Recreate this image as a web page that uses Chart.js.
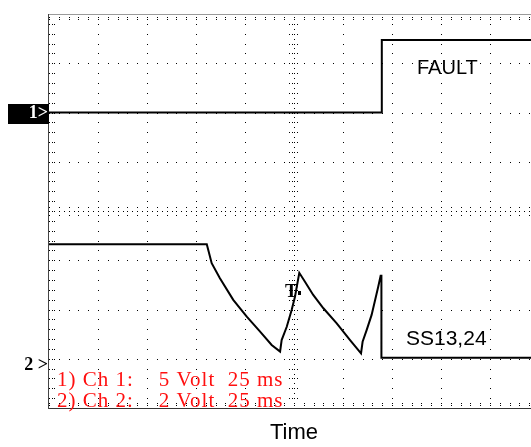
<!DOCTYPE html>
<html>
<head>
<meta charset="utf-8">
<script src="https://cdn.jsdelivr.net/npm/chart.js@4.4.0/dist/chart.umd.min.js"></script>
<style>
  html, body { margin: 0; padding: 0; background: #fff; overflow: hidden; }
  #wrap { width: 531px; height: 447px; overflow: hidden; }
</style>
</head>
<body>
<div id="wrap"><canvas id="scope" width="540" height="447"></canvas></div>
<script>
// time base: 25 ms per division, 10 divisions across, 8 down
const timeMin = 0;
const timeMax = 250;
const msPerDiv = 25;
const divsY = 8;

// channel settings (volts per division, ground marker in divisions from bottom)
const ch1VoltsPerDiv = 5;
const ch1Ground = 6;
const ch2VoltsPerDiv = 2;
const ch2Ground = 1;

// Ch 1 - FAULT
const ch1Time = [0, 169.8, 169.8, 250];
const ch1Volts = [0, 0, 7.35, 7.35];

// Ch 2 - SS13,24
const ch2Time = [0, 80.5, 83.0, 87.2, 94.0, 100.9, 107.7, 113.6, 117.9, 118.7, 121.3, 123.8, 125.5, 127.7,
                 130.6, 134.8, 140.0, 146.8, 153.6, 159.2, 160.0, 162.1, 164.6, 168.0, 169.2, 169.6, 169.6, 250];
const ch2Volts = [4.65, 4.65, 3.88, 3.27, 2.39, 1.71, 1.10, 0.56, 0.29, 0.76, 1.30, 1.98, 2.52, 3.49,
                  3.13, 2.59, 2.05, 1.44, 0.76, 0.22, 0.69, 1.17, 1.78, 2.93, 3.37, 3.37, 0.04, 0.04];

// text on the screen
const traceLabels = ['FAULT', 'SS13,24'];
const legendLines = ['1) Ch 1:    5 Volt  25 ms', '2) Ch 2:    2 Volt  25 ms'];

function toDivs(times, volts, ground, vPerDiv) {
    return times.map((t, i) => ({ x: t, y: ground + volts[i] / vPerDiv }));
}

// oscilloscope graticule, frame and annotations
const scopeScreen = {
    id: 'scopeScreen',
    beforeDatasetsDraw(chart) {
        const { ctx, chartArea: a, scales: { x, y } } = chart;
        ctx.save();
        ctx.fillStyle = '#000';
        const dot = (px, py) => ctx.fillRect(Math.round(px), Math.round(py), 1, 1);
        const nX = (timeMax - timeMin) / msPerDiv;

        // major lines, dotted at every minor step
        for (let i = 0; i <= nX; i++) {
            const px = x.getPixelForValue(timeMin + i * msPerDiv);
            for (let j = 0; j <= divsY * 5; j++) dot(px, y.getPixelForValue(j / 5));
        }
        for (let k = 0; k <= divsY; k++) {
            const py = y.getPixelForValue(k);
            for (let j = 0; j <= nX * 5; j++) dot(x.getPixelForValue(j * msPerDiv / 5), py);
        }

        // center cross ticks
        const cx = x.getPixelForValue((timeMin + timeMax) / 2);
        const cy = y.getPixelForValue(divsY / 2);
        for (let j = 0; j <= nX * 10; j++) {
            const px = x.getPixelForValue(j * msPerDiv / 10);
            if (j % 2 === 0) { dot(px, cy - 4); dot(px, cy + 4); }
            dot(px, cy);
        }
        for (let j = 0; j <= divsY * 10; j++) {
            const py = y.getPixelForValue(j / 10);
            if (j % 2 === 0) { dot(cx - 5, py); dot(cx - 2, py); dot(cx + 3, py); }
            dot(cx, py);
        }

        // edge ticks
        for (let j = 0; j <= divsY * 5; j++) {
            const py = y.getPixelForValue(j / 5);
            dot(a.left + 3, py);
            dot(a.left + 5, py);
        }
        for (let j = 0; j <= nX * 5; j++) {
            const px = x.getPixelForValue(j * msPerDiv / 5);
            dot(px, a.top + 3); dot(px, a.top + 5);
            dot(px, a.bottom - 3); dot(px, a.bottom - 5);
        }

        // frame
        ctx.fillStyle = '#9a9a9a';
        ctx.fillRect(a.left, Math.round(a.top), a.right - a.left, 1);
        ctx.fillStyle = '#333';
        ctx.fillRect(a.left, Math.round(a.bottom), a.right - a.left, 1);
        ctx.fillStyle = '#444';
        ctx.fillRect(a.left - 1, Math.round(a.top), 1, a.bottom - a.top + 1);
        ctx.restore();
    },
    afterDatasetsDraw(chart) {
        const { ctx, chartArea: a, scales: { x, y } } = chart;
        ctx.save();
        ctx.textBaseline = 'middle';

        // trace names
        ctx.fillStyle = '#000';
        ctx.font = '20px "Liberation Sans", Arial, sans-serif';
        ctx.fillText(traceLabels[0], 417, 68);
        ctx.font = '21px "Liberation Sans", Arial, sans-serif';
        ctx.fillText(traceLabels[1], 406, 339);

        // trigger marker
        ctx.font = 'bold 19px "Liberation Serif", serif';
        ctx.textBaseline = 'alphabetic';
        ctx.fillText('T', 285, 297);
        ctx.fillRect(298, 291, 3, 4);

        // channel settings
        ctx.fillStyle = '#ff1010';
        ctx.font = '21px "Liberation Serif", "Times New Roman", serif';
        ctx.letterSpacing = '1px';
        ctx.textBaseline = 'middle';
        ctx.fillText(legendLines[0], 57, 380);
        ctx.fillText(legendLines[1], 57, 401);
        ctx.letterSpacing = '0px';

        // ground markers
        const g1 = y.getPixelForValue(ch1Ground);
        const g2 = y.getPixelForValue(ch2Ground);
        ctx.fillStyle = '#000';
        ctx.fillRect(8, Math.round(g1) - 9, a.left - 8, 20);
        ctx.font = 'bold 18px "Liberation Serif", serif';
        ctx.textAlign = 'right';
        ctx.fillStyle = '#fff';
        ctx.fillText('1>', a.left - 1, g1 + 1);
        ctx.fillStyle = '#000';
        ctx.fillText('2 >', a.left - 1, g2 + 7);
        ctx.restore();
    }
};

Chart.defaults.font.family = '"Liberation Sans", Arial, sans-serif';

const ctx = document.getElementById('scope').getContext('2d');
const scopeChart = new Chart(ctx, {
    type: 'line',
    data: {
        datasets: [{
            label: 'Ch 1',
            data: toDivs(ch1Time, ch1Volts, ch1Ground, ch1VoltsPerDiv),
            borderColor: '#000',
            borderWidth: 2,
            pointRadius: 0,
            tension: 0
        }, {
            label: 'Ch 2',
            data: toDivs(ch2Time, ch2Volts, ch2Ground, ch2VoltsPerDiv),
            borderColor: '#000',
            borderWidth: 2,
            pointRadius: 0,
            tension: 0
        }]
    },
    options: {
        responsive: false,
        animation: false,
        devicePixelRatio: 1,
        layout: { padding: { left: 49, top: 14, right: 1, bottom: 0.6 } },
        plugins: { legend: { display: false }, tooltip: { enabled: false } },
        scales: {
            x: {
                type: 'linear',
                min: timeMin,
                max: timeMax,
                ticks: { display: false },
                grid: { display: false, drawTicks: false },
                border: { display: false },
                title: {
                    display: true,
                    text: 'Time',
                    color: '#000',
                    font: { size: 22 },
                    padding: { top: 12, bottom: 0 }
                }
            },
            y: {
                display: false,
                min: 0,
                max: divsY
            }
        }
    },
    plugins: [scopeScreen]
});
</script>
</body>
</html>
